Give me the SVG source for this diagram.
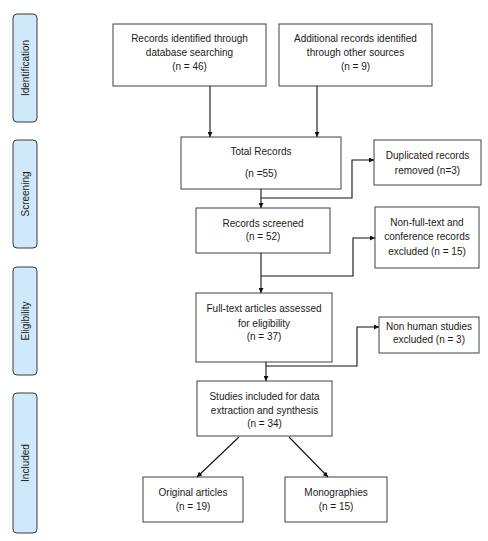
<svg xmlns="http://www.w3.org/2000/svg" width="488" height="541" viewBox="0 0 488 541">
<style>
.box{fill:#fff;stroke:#404040;stroke-width:1}
.side{fill:#cfe9fb;stroke:#3a3a3a;stroke-width:1}
text{font-family:"Liberation Sans",Arial,sans-serif;font-size:10px;fill:#1a1a1a;text-anchor:middle}
.ln{fill:none;stroke:#111;stroke-width:1.1}
</style>
<defs>
<marker id="ah" viewBox="0 0 10 10" refX="10" refY="5" markerWidth="5" markerHeight="5" orient="auto" markerUnits="userSpaceOnUse">
<path d="M0,0 L10,5 L0,10 z" fill="#111"/>
</marker>
</defs>
<rect width="488" height="541" fill="#fff"/>
<g id="stage-identification"><rect class="side" x="13" y="14" width="24" height="108" rx="4"/><text transform="translate(28.5,68) rotate(-90)">Identification</text></g>
<g id="stage-screening"><rect class="side" x="13" y="140" width="24" height="108" rx="4"/><text transform="translate(28.5,194) rotate(-90)">Screening</text></g>
<g id="stage-eligibility"><rect class="side" x="13" y="267" width="24" height="108" rx="4"/><text transform="translate(28.5,321) rotate(-90)">Eligibility</text></g>
<g id="stage-included"><rect class="side" x="13" y="393" width="24" height="140" rx="4"/><text transform="translate(28.5,463) rotate(-90)">Included</text></g>

<g id="n-database"><rect class="box" x="113" y="24" width="153" height="62"/><text x="189.5" y="42">Records identified through</text><text x="189.5" y="56">database searching</text><text x="189.5" y="70">(n = 46)</text></g>
<g id="n-other"><rect class="box" x="279" y="24" width="153" height="62"/><text x="355.5" y="42">Additional records identified</text><text x="355.5" y="56">through other sources</text><text x="355.5" y="70">(n = 9)</text></g>
<g id="n-total"><rect class="box" x="181" y="137" width="160" height="52"/><text x="261" y="155">Total Records</text><text x="261" y="177">(n =55)</text></g>
<g id="n-duplicates"><rect class="box" x="374" y="140" width="107" height="45"/><text x="427.5" y="159">Duplicated records</text><text x="427.5" y="174">removed (n=3)</text></g>
<g id="n-screened"><rect class="box" x="196" y="208" width="134" height="45"/><text x="263" y="227">Records screened</text><text x="263" y="240">(n = 52)</text></g>
<g id="n-nonfull"><rect class="box" x="375" y="207" width="104" height="61"/><text x="427" y="226">Non-full-text and</text><text x="427" y="240">conference records</text><text x="427" y="255">excluded (n = 15)</text></g>
<g id="n-fulltext"><rect class="box" x="196" y="293" width="136" height="69"/><text x="264" y="312">Full-text articles assessed</text><text x="264" y="327">for eligibility</text><text x="264" y="340">(n = 37)</text></g>
<g id="n-nonhuman"><rect class="box" x="379" y="317" width="100" height="36"/><text x="429" y="330">Non human studies</text><text x="429" y="343">excluded (n = 3)</text></g>
<g id="n-studies"><rect class="box" x="197" y="381" width="135" height="55"/><text x="264.5" y="400">Studies included for data</text><text x="264.5" y="414">extraction and synthesis</text><text x="264.5" y="427">(n = 34)</text></g>
<g id="n-original"><rect class="box" x="143" y="477" width="100" height="45"/><text x="193" y="496">Original articles</text><text x="193" y="510">(n = 19)</text></g>
<g id="n-monographies"><rect class="box" x="285" y="477" width="102" height="45"/><text x="336" y="496">Monographies</text><text x="336" y="510">(n = 15)</text></g>

<g id="connectors">
<path class="ln" d="M210,86 V137" marker-end="url(#ah)"/>
<path class="ln" d="M317,86 V137" marker-end="url(#ah)"/>
<path class="ln" d="M261,189 V208" marker-end="url(#ah)"/>
<path class="ln" d="M261,198 H352 V160 H374" marker-end="url(#ah)"/>
<path class="ln" d="M261,253 V293" marker-end="url(#ah)"/>
<path class="ln" d="M261,276 H353 V238 H375" marker-end="url(#ah)"/>
<path class="ln" d="M266,362 V381" marker-end="url(#ah)"/>
<path class="ln" d="M266,366 H357 V327 H379" marker-end="url(#ah)"/>
<path class="ln" d="M239,437 L197,477" marker-end="url(#ah)"/>
<path class="ln" d="M289,437 L328,477" marker-end="url(#ah)"/>
</g>
</svg>
